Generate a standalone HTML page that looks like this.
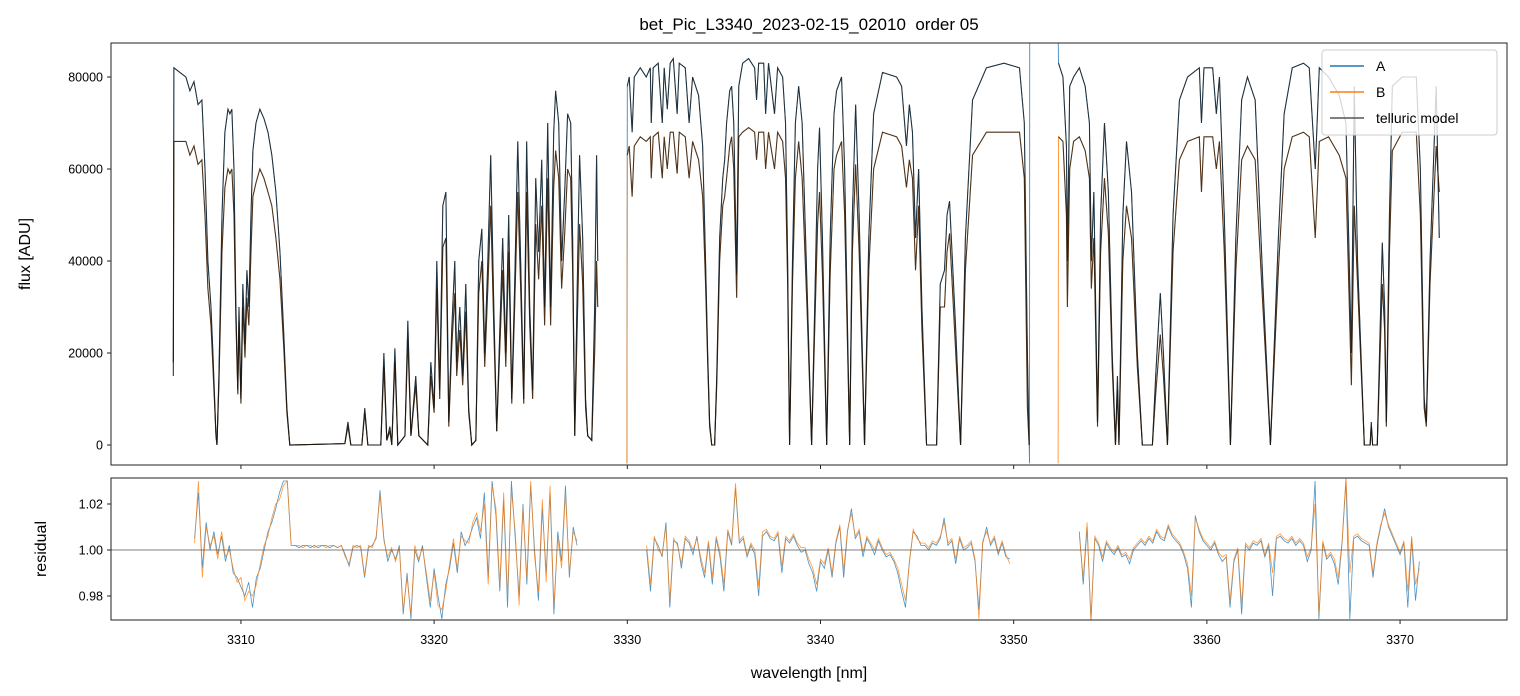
<!DOCTYPE html>
<html><head><meta charset="utf-8"><style>
html,body{margin:0;padding:0;background:#fff;}
svg{display:block;font-family:"Liberation Sans","DejaVu Sans",sans-serif;}
</style></head><body>
<svg id="chart" width="1520" height="696" viewBox="0 0 1520 696">
<rect width="1520" height="696" fill="#fff"/>
<defs>
<clipPath id="clipTop"><rect x="111" y="43" width="1396" height="422"/></clipPath>
<clipPath id="clipBot"><rect x="111" y="478" width="1396" height="142"/></clipPath>
</defs>
<text x="809" y="30" font-size="17" text-anchor="middle" style="white-space:pre">bet_Pic_L3340_2023-02-15_02010  order 05</text>
<g id="topPlot" clip-path="url(#clipTop)"></g>
<g id="botPlot" clip-path="url(#clipBot)"></g>
<g id="axes"></g>
<text transform="translate(30,254) rotate(-90)" font-size="16" text-anchor="middle">flux [ADU]</text>
<text transform="translate(46,549) rotate(-90)" font-size="16" text-anchor="middle">residual</text>
<text x="809" y="678" font-size="16" text-anchor="middle">wavelength [nm]</text>
<g>
<rect x="1322" y="50" width="175" height="85" rx="3" fill="#fff" fill-opacity="0.8" stroke="#ccc"/>
<line x1="1330" y1="66" x2="1364" y2="66" stroke="#1f77b4" stroke-width="1.5"/>
<text x="1376" y="71" font-size="14">A</text>
<line x1="1330" y1="92" x2="1364" y2="92" stroke="#ff7f0e" stroke-width="1.5"/>
<text x="1376" y="97" font-size="14">B</text>
<line x1="1330" y1="118" x2="1364" y2="118" stroke="#555" stroke-width="1.5"/>
<text x="1376" y="123" font-size="14">telluric model</text>
</g>
</svg>
<script>
// ---- spectrum data (flux in thousands of ADU; null = gap) ----
const wavelengths = [3306.50,3306.53,3306.84,3307.15,3307.36,3307.57,3307.78,3307.98,3308.14,3308.29,3308.45,3308.55,3308.71,3308.76,3308.86,3309.02,3309.17,3309.33,3309.43,3309.53,3309.64,3309.74,3309.84,3309.90,3310.00,3310.10,3310.21,3310.31,3310.41,3310.52,3310.62,3310.78,3310.98,3311.19,3311.40,3311.60,3311.81,3312.02,3312.22,3312.38,3312.53,
3315.38,3315.54,3315.69,3316.26,3316.41,3316.57,3317.24,3317.40,3317.55,3317.71,3317.81,3317.97,3318.12,3318.49,3318.64,3318.80,3319.05,3319.21,3319.67,3319.83,3320.00,3320.14,3320.29,3320.45,3320.61,3320.76,3320.91,3321.07,3321.17,3321.33,3321.48,3321.64,3321.79,3321.95,3322.16,3322.31,3322.47,3322.62,3322.78,3322.93,3323.09,3323.24,3323.40,3323.55,3323.71,3323.86,3324.02,3324.17,3324.33,3324.48,3324.64,3324.79,3324.95,3325.10,3325.26,3325.41,3325.57,3325.72,3325.88,3326.03,3326.19,3326.29,3326.45,3326.60,3326.76,3326.91,3327.07,3327.17,3327.28,3327.43,3327.53,3327.69,3327.84,3327.95,3328.16,3328.31,3328.41,3328.47,
3329.00,
3329.98,3330.00,3330.10,3330.25,3330.36,3330.67,3330.98,3331.19,3331.24,3331.34,3331.60,3331.81,3331.91,3332.07,3332.22,3332.38,3332.58,3332.69,3333.00,3333.20,3333.38,3333.69,3333.90,3334.05,3334.16,3334.26,3334.37,3334.52,3334.63,3334.78,3334.94,3335.04,3335.14,3335.30,3335.40,3335.51,3335.66,3335.77,3335.97,3336.28,3336.59,3336.69,3336.80,3337.06,3337.16,3337.31,3337.62,3337.78,3338.04,3338.19,3338.30,3338.40,3338.55,3338.70,3338.87,3339.05,3339.30,3339.54,3339.70,3339.85,3339.95,3340.10,3340.32,3340.50,3340.70,3340.83,3341.09,3341.25,3341.51,3341.65,3341.82,3342.00,3342.28,3342.50,3342.75,3343.21,3343.94,3344.20,3344.45,3344.60,3344.76,3344.92,3345.08,3345.25,3345.49,3346.01,3346.20,3346.42,3346.55,3346.68,3346.83,3347.00,3347.25,3347.50,3347.87,3348.59,3349.50,3350.30,3350.55,3350.71,3350.80,3350.82,3350.83,
3351.50,
3352.30,3352.32,3352.55,3352.73,3352.78,3352.90,3353.10,3353.40,3353.70,3353.92,3354.02,3354.15,3354.34,3354.50,3354.70,3354.90,3355.10,3355.27,3355.37,3355.45,3355.65,3355.84,3356.10,3356.40,3356.66,3357.18,3357.35,3357.59,3357.75,3357.96,3358.25,3358.58,3359.00,3359.61,3359.72,3359.85,3360.30,3360.49,3360.65,3360.90,3361.22,3361.50,3361.80,3362.10,3362.50,3362.90,3363.29,3363.70,3364.00,3364.42,3365.00,3365.30,3365.61,3365.82,3366.30,3366.85,3367.20,3367.48,3367.63,3367.80,3368.15,3368.45,3368.51,3368.58,3368.82,3369.08,3369.20,3369.29,3369.45,3369.60,3370.11,3370.84,3371.05,3371.25,3371.36,3371.55,3371.87,3372.03];
const fluxA = [18,82,81,80,77,79,74,75,60,40,30,20,2,0,15,50,68,73,72,73,60,30,12,30,10,35,22,38,30,50,64,70,73,71,68,63,55,42,24,8,0,
0.3,5,0,0,8,0,0,20,1,4,0,21,0,2,27,2,15,2,0,18,8,40,12,52,55,5,25,40,18,30,15,35,8,0,1,40,47,20,40,63,30,3,25,45,20,50,10,35,66,40,10,66,30,12,58,42,62,30,70,30,68,77,70,40,55,72,70,45,2,40,63,45,10,2,1,30,63,40,
null,
-4,78,80,68,80,82,80,82,70,82,83,70,82,73,83,84,72,83,82,70,80,76,65,40,20,5,0,0,15,45,58,62,70,77,78,70,37,78,83,84,82,75,83,83,72,83,72,82,80,70,40,0,40,70,78,70,35,0,30,60,69,45,0,45,72,77,80,60,0,50,74,50,0,45,72,81,80,78,65,74,68,45,60,30,0,0,35,38,50,53,40,25,0,45,75,82,83,82,70,20,0,-4,90,
null,
90,83,80,65,40,78,80,82,78,70,40,55,5,50,70,55,20,0,15,0,50,66,55,20,0,0,15,33,20,0,50,75,80,82,70,82,82,72,80,50,0,45,75,80,75,35,0,45,72,82,83,82,60,82,80,76,70,20,78,40,0,0,5,0,0,44,30,5,50,78,80,80,60,10,5,40,78,45];
const fluxB = [15,66,66,66,63,65,61,62,50,34,26,17,2,0,13,42,56,60,59,60,50,27,11,27,9,30,19,32,26,42,54,57,60,58,55,52,45,36,21,7,0,
0.3,4,0,0,7,0,0,17,1,3,0,18,0,2,23,2,13,2,0,15,7,34,10,43,45,4,21,33,15,25,13,29,7,0,1,33,40,17,34,52,25,3,21,38,17,42,9,30,55,34,9,55,26,10,48,36,52,26,58,26,56,64,58,34,46,60,58,38,2,30,48,35,8,2,1,20,40,30,
null,
-4,63,65,54,65,67,66,67,58,67,68,58,67,60,68,68,59,68,67,58,66,62,54,35,18,4,0,0,13,40,52,54,58,65,67,60,32,67,68,69,68,62,68,68,60,68,60,68,66,58,35,0,35,58,66,58,30,0,25,48,55,37,0,37,60,63,66,50,0,42,61,42,0,38,60,68,67,65,56,62,58,38,52,25,0,0,30,30,42,46,34,20,0,38,63,68,68,68,58,8,0,null,null,
null,
-4,67,66,50,30,60,66,67,64,58,34,45,4,42,58,46,17,0,12,0,40,52,45,17,0,0,11,24,15,0,42,62,66,67,55,67,67,60,66,42,0,38,62,65,62,30,0,38,60,67,68,67,45,66,67,63,58,13,52,35,0,0,4,0,0,35,25,4,42,64,68,68,50,8,4,35,65,55];

// ---- residual data (deviation from 1 in units of 1e-3) ----
const residStart = [3307.6, 3331.0, 3353.4];
const residStep = 0.2;
const residA1 = [5,25,-8,12,0,8,-2,6,-5,2,-10,-12,-16,-20,-14,-25,-12,-8,0,8,12,18,25,30,30,2,2,1,2,2,1,2,1,2,2,1,2,1,2,-2,-7,1,2,1,-12,1,2,5,26,5,-5,0,-4,2,-28,-10,-30,0,-5,2,-12,-25,-8,-20,-30,-15,-8,3,-10,8,2,5,10,14,5,25,-12,30,15,-18,22,-25,30,5,-20,20,-15,28,0,-22,18,-10,25,-28,8,-5,28,-12,10,2];
const residA2 = [0,-18,5,2,-3,12,-25,4,3,-8,5,3,-2,6,-5,-12,3,-15,5,-3,-18,8,2,27,3,5,-3,2,-2,-20,6,8,5,4,7,-10,5,3,6,2,-1,0,-6,-10,-18,-5,-8,0,-12,3,10,-12,8,18,5,8,-3,5,2,-2,4,0,-3,-2,-5,-10,-18,-25,-5,8,6,2,2,0,3,2,5,14,2,4,-6,5,0,1,3,-5,-26,3,10,2,5,-2,3,-3,-4];
const residA3 = [8,-15,10,-30,5,2,-5,3,0,-2,1,-3,-2,-6,0,2,4,2,5,3,8,5,4,10,6,4,2,-2,-8,-25,15,8,4,2,0,3,-2,-5,-3,-25,-5,0,-28,2,0,3,2,4,-3,2,-20,5,6,4,3,5,2,4,2,-5,0,30,-30,3,-4,-2,-6,-15,3,30,-30,5,6,4,3,2,-12,2,10,18,10,6,2,-2,3,-25,5,-22,-5];
const residB1 = [3,30,-12,10,2,6,-4,8,-3,0,-8,-14,-12,-22,-18,-20,-15,-6,2,6,14,20,22,28,30,2,2,2,1,2,2,1,2,2,1,2,2,1,2,-3,-6,2,1,2,-11,2,1,6,24,4,-3,1,-5,1,-26,-12,-28,2,-4,1,-10,-22,-10,-24,-26,-18,-6,5,-8,6,4,3,12,16,8,20,-15,28,18,-15,25,-20,26,8,-24,18,-12,30,-3,-18,22,-14,28,-24,5,-8,25,-10,8,4];
const residB2 = [2,-15,6,0,-2,10,-22,5,2,-6,6,4,0,5,-3,-10,4,-12,6,-1,-15,9,3,29,4,6,-2,3,0,-16,8,9,6,5,8,-7,6,4,7,3,1,1,-4,-8,-15,-4,-6,1,-10,4,11,-9,9,16,6,9,-1,6,3,0,5,1,-2,-1,-4,-8,-15,-22,-6,9,5,3,3,1,4,3,6,12,3,5,-4,6,1,2,4,-4,-30,4,8,3,6,-1,4,-2,-6];
const residB3 = [6,-12,12,-32,6,3,-3,4,1,-1,2,-2,-1,-4,1,3,5,3,6,4,9,6,5,11,7,5,3,-1,-6,-20,14,9,5,3,1,4,-1,-3,-2,-22,-4,1,-24,3,1,4,3,5,-2,3,-10,6,7,5,4,6,3,5,3,-3,1,20,-28,4,-3,-1,-4,-12,4,32,-10,6,7,5,4,3,-10,3,11,16,11,7,3,-1,4,-18,6,-15,-8];

const yTicksTop = [0,20000,40000,60000,80000];
const yTickLabelsTop = ["0","20000","40000","60000","80000"];
const yTicksBot = [0.98,1.00,1.02];
const yTickLabelsBot = ["0.98","1.00","1.02"];
const xTicks = [3310,3320,3330,3340,3350,3360,3370];
const xTickLabels = ["3310","3320","3330","3340","3350","3360","3370"];

// ---- axis functions ----
const X0=111, X1=1507;
const xMin = 3310 - 130/19.33, xMax = 3370 + 107/19.33;
function xs(w){ return X0 + (w - xMin)/(xMax - xMin)*(X1 - X0); }
function yTop(f){ return 445 - f*0.0046; }
function yBot(r){ return 550 - (r - 1)*2300; }
const NS="http://www.w3.org/2000/svg";
function el(tag, attrs, parent){ const e=document.createElementNS(NS,tag); for(const k in attrs) e.setAttribute(k,attrs[k]); parent.appendChild(e); return e; }

function pathFrom(xsArr, ysArr){
  let d="", pen=false;
  for(let i=0;i<xsArr.length;i++){
    const v=ysArr[i];
    if(v===null||v===undefined){ pen=false; continue; }
    d += (pen?"L":"M") + xs(xsArr[i]).toFixed(2) + " " + v.toFixed(2) + " ";
    pen=true;
  }
  return d;
}
const topG = document.getElementById('topPlot');
const botG = document.getElementById('botPlot');
const axesG = document.getElementById('axes');

const yA = fluxA.map(v => v===null?null:yTop(v*1000));
const yB = fluxB.map(v => v===null?null:yTop(v*1000));
// the telluric model ignores detector spikes (values outside the physical range)
const yMA = fluxA.map(v => (v===null||v<0||v>85)?null:yTop(v*1000));
const yMB = fluxB.map(v => (v===null||v<0||v>85)?null:yTop(v*1000));
let p;
p = el('path',{d:pathFrom(wavelengths,yA),fill:'none',stroke:'#1f77b4','stroke-width':0.9,'stroke-opacity':0.85},topG);


p = el('path',{d:pathFrom(wavelengths,yB),fill:'none',stroke:'#ff7f0e','stroke-width':0.9,'stroke-opacity':0.85},topG);


p = el('path',{d:pathFrom(wavelengths,yMA),fill:'none',stroke:'#111','stroke-width':1.1,'stroke-opacity':0.75},topG);


p = el('path',{d:pathFrom(wavelengths,yMB),fill:'none',stroke:'#111','stroke-width':1.1,'stroke-opacity':0.75},topG);



function residPath(segs){
  let d="";
  segs.forEach((vals,si)=>{
    vals.forEach((v,i)=>{
      const w = residStart[si] + i*residStep;
      d += (i===0?"M":"L") + xs(w).toFixed(2) + " " + yBot(1 + v/1000).toFixed(2) + " ";
    });
  });
  return d;
}
p = el('path',{d:residPath([residA1,residA2,residA3]),fill:'none',stroke:'#1f77b4','stroke-width':0.8,'stroke-opacity':0.8},botG);


p = el('path',{d:residPath([residB1,residB2,residB3]),fill:'none',stroke:'#ff7f0e','stroke-width':0.8,'stroke-opacity':0.8},botG);


p = el('line',{x1:X0,x2:X1,y1:yBot(1),y2:yBot(1),stroke:'#555','stroke-width':0.8},botG);



p = el('rect',{x:X0,y:43,width:X1-X0,height:422,fill:'none',stroke:'#222','stroke-width':1},axesG);


p = el('rect',{x:X0,y:478,width:X1-X0,height:142,fill:'none',stroke:'#222','stroke-width':1},axesG);



yTicksTop.forEach((t,i)=>{
  const y=yTop(t);
  el('line',{x1:X0-4,x2:X0,y1:y,y2:y,stroke:'#222'},axesG);
  const tx=el('text',{x:X0-8,y:y+4.5,'font-size':12.5,'text-anchor':'end'},axesG);
  tx.textContent=yTickLabelsTop[i];
  
  
});
yTicksBot.forEach((t,i)=>{
  const y=yBot(t);
  el('line',{x1:X0-4,x2:X0,y1:y,y2:y,stroke:'#222'},axesG);
  const tx=el('text',{x:X0-8,y:y+4.5,'font-size':12.5,'text-anchor':'end'},axesG);
  tx.textContent=yTickLabelsBot[i];
  
  
});
xTicks.forEach((t,i)=>{
  const x=xs(t);
  el('line',{x1:x,x2:x,y1:465,y2:469,stroke:'#222'},axesG);
  el('line',{x1:x,x2:x,y1:620,y2:624,stroke:'#222'},axesG);
  const tx=el('text',{x:x,y:644,'font-size':12.5,'text-anchor':'middle'},axesG);
  tx.textContent=xTickLabels[i];
  
  
});
</script>
</body></html>
